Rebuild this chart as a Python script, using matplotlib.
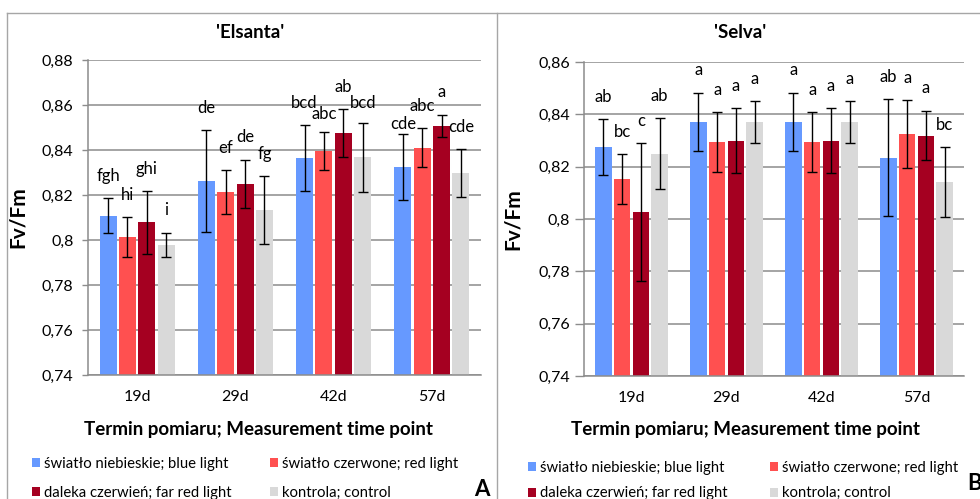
import numpy as np
import matplotlib.pyplot as plt
from matplotlib.lines import Line2D
from matplotlib.patches import Patch

plt.rcParams['font.family'] = ['Lato', 'DejaVu Sans']

# Data
days = ['19d', '29d', '42d', '57d']
treatments = ['światło niebieskie; blue light', 'światło czerwone; red light',
              'daleka czerwień; far red light', 'kontrola; control']
colors = ['#6699FF', '#FF5050', '#A50021', '#D9D9D9']

# 'Elsanta' - rows: treatments, columns: days
els_mean = [[0.8108, 0.8262, 0.8363, 0.8324],
            [0.8013, 0.8213, 0.8397, 0.8410],
            [0.8079, 0.8249, 0.8476, 0.8508],
            [0.7978, 0.8133, 0.8368, 0.8298]]
els_err = [[0.0077, 0.0226, 0.0147, 0.0148],
           [0.0087, 0.0097, 0.0084, 0.0087],
           [0.0139, 0.0108, 0.0106, 0.0049],
           [0.0055, 0.0152, 0.0154, 0.0106]]
els_letters = [['fgh', 'de', 'bcd', 'cde'],
               ['hi', 'ef', 'abc', 'abc'],
               ['ghi', 'de', 'ab', 'a'],
               ['i', 'fg', 'bcd', 'cde']]

# 'Selva'
sel_mean = [[0.8275, 0.8371, 0.8371, 0.8235],
            [0.8152, 0.8295, 0.8295, 0.8324],
            [0.8026, 0.8300, 0.8300, 0.8319],
            [0.8250, 0.8372, 0.8372, 0.8141]]
sel_err = [[0.0107, 0.0112, 0.0112, 0.0224],
           [0.0095, 0.0114, 0.0114, 0.0129],
           [0.0264, 0.0125, 0.0125, 0.0095],
           [0.0137, 0.0080, 0.0080, 0.0134]]
sel_letters = [['ab', 'a', 'a', 'ab'],
               ['bc', 'a', 'a', 'a'],
               ['c', 'a', 'a', 'a'],
               ['ab', 'a', 'a', 'bc']]

# a few letters sit lower in the original to avoid clashing (points)
els_nudge = {(0, 3): -9, (1, 2): -3, (3, 2): -2}

W, H = 980, 499
fig = plt.figure(figsize=(W / 100, H / 100), dpi=100)


def px(x0, y0, x1, y1):
    # pixel box (top-left origin) -> figure fraction rect
    return [x0 / W, 1 - y1 / H, (x1 - x0) / W, (y1 - y0) / H]


def draw(ax, means, errs, letters, yticks, ylab_x, nudge, tlen, tpad):
    x = np.arange(len(days))
    pitch = 0.197
    for i in range(len(treatments)):
        pos = x + (i - 1.5) * pitch
        ax.bar(pos, means[i], width=0.172, color=colors[i], zorder=2)
        ax.errorbar(pos, means[i], yerr=errs[i], fmt='none', ecolor='black',
                    elinewidth=1.0, capsize=3.6, capthick=1.0, zorder=3)
        for j in range(len(days)):
            dy = 16 + nudge.get((i, j), 0)
            ax.annotate(letters[i][j], (pos[j], means[i][j] + errs[i][j]),
                        xytext=(0, dy), textcoords='offset points',
                        ha='center', va='center', fontsize=12)
    ax.set_xlim(-0.5, 3.5)
    ax.set_ylim(yticks[0], yticks[-1])
    ax.set_yticks(yticks)
    ax.set_yticklabels([f'{v:g}'.replace('.', ',') for v in yticks], fontsize=11.5)
    ax.set_xticks(x)
    ax.set_xticklabels(days, fontsize=11.5)
    ax.tick_params(axis='x', length=0, pad=11)
    ax.tick_params(axis='y', length=tlen, color='#8C8C8C', width=1.0, pad=tpad)
    ax.grid(axis='y', color='#8C8C8C', linewidth=1.1, zorder=0)
    ax.set_axisbelow(True)
    for s in ['top', 'right']:
        ax.spines[s].set_visible(False)
    for s in ['left', 'bottom']:
        ax.spines[s].set_color('#8C8C8C')
        ax.spines[s].set_linewidth(1.1)
    ax.set_ylabel('Fv/Fm', fontsize=15, fontweight='bold')
    ax.yaxis.set_label_coords(ylab_x, 0.5)


ax1 = fig.add_axes(px(88, 60, 481, 375))
draw(ax1, els_mean, els_err, els_letters,
     [0.74, 0.76, 0.78, 0.80, 0.82, 0.84, 0.86, 0.88], (28 - 88) / 393,
     els_nudge, 4, 6.5)

ax2 = fig.add_axes(px(584, 62, 964, 376))
draw(ax2, sel_mean, sel_err, sel_letters,
     [0.74, 0.76, 0.78, 0.80, 0.82, 0.84, 0.86], (523 - 584) / 380,
     {}, 6.5, 3.5)

# titles and x axis labels
for cx, title in [(250, "'Elsanta'"), (740, "'Selva'")]:
    fig.text(cx / W, 1 - 33 / H, title, ha='center', va='center',
             fontsize=13.5, fontweight='bold')
for cx in [258, 745]:
    fig.text(cx / W, 1 - 430 / H, 'Termin pomiaru; Measurement time point',
             ha='center', va='center', fontsize=13.5, fontweight='bold')

# legends (column-major order so rows read blue/red, far red/control)
order = [0, 2, 1, 3]
handles = [Patch(facecolor=colors[k]) for k in order]
labels = [treatments[k] for k in order]
for lx, ly, lsp, csp in [(32, 457, 0.98, 2.6), (528, 461, 0.76, 2.85)]:
    fig.legend(handles, labels, loc='upper left', ncol=2,
               bbox_to_anchor=(lx / W, 1 - ly / H), frameon=False,
               fontsize=10.7, handlelength=0.55, handleheight=0.55,
               handletextpad=0.25, columnspacing=csp, labelspacing=lsp,
               borderpad=0, borderaxespad=0)

# panel letters
fig.text(482 / W, 1 - 490 / H, 'A', ha='center', va='center',
         fontsize=16, fontweight='bold')
fig.text(975 / W, 1 - 484 / H, 'B', ha='center', va='center',
         fontsize=16, fontweight='bold')

# chart area borders
bc = '#A6A6A6'
fig.add_artist(Line2D([7 / W, 1], [1 - 13 / H] * 2, color=bc, lw=1.0))
fig.add_artist(Line2D([7 / W] * 2, [0, 1 - 13 / H], color=bc, lw=1.0))
fig.add_artist(Line2D([497 / W] * 2, [0, 1 - 13 / H], color=bc, lw=1.0))

fig.savefig('out.png', dpi=100)
